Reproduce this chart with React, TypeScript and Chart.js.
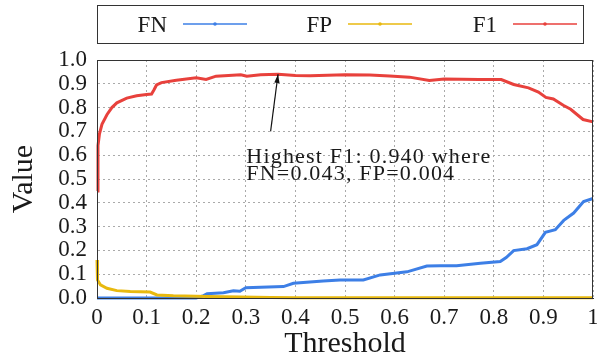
import React, { useEffect, useRef } from 'react';
import { Chart, registerables } from 'chart.js';

Chart.register(...registerables);

// ---- Data ----
const f1X = [0, 0.002, 0.005, 0.01, 0.02, 0.03, 0.04, 0.06, 0.08, 0.1, 0.11, 0.115, 0.12, 0.13, 0.16, 0.2, 0.22, 0.24, 0.29, 0.302, 0.33, 0.365, 0.4, 0.43, 0.5, 0.55, 0.59, 0.63, 0.67, 0.7, 0.77, 0.815, 0.84, 0.87, 0.89, 0.905, 0.92, 0.94, 0.955, 0.98, 1.0];
const f1Y = [0.45, 0.64, 0.69, 0.73, 0.77, 0.8, 0.82, 0.84, 0.85, 0.855, 0.857, 0.875, 0.895, 0.905, 0.915, 0.925, 0.918, 0.932, 0.938, 0.932, 0.938, 0.94, 0.935, 0.934, 0.938, 0.937, 0.933, 0.928, 0.914, 0.92, 0.918, 0.918, 0.897, 0.883, 0.865, 0.843, 0.836, 0.81, 0.793, 0.75, 0.74];

const fnX = [0, 0.2, 0.215, 0.222, 0.255, 0.275, 0.288, 0.3, 0.376, 0.396, 0.456, 0.49, 0.537, 0.571, 0.625, 0.665, 0.692, 0.725, 0.773, 0.813, 0.825, 0.84, 0.867, 0.887, 0.904, 0.924, 0.941, 0.961, 0.981, 1.0];
const fnY = [0, 0, 0.01, 0.018, 0.022, 0.03, 0.028, 0.043, 0.048, 0.062, 0.071, 0.076, 0.076, 0.097, 0.11, 0.134, 0.136, 0.136, 0.146, 0.153, 0.17, 0.199, 0.207, 0.224, 0.276, 0.287, 0.326, 0.357, 0.405, 0.418];

const fpX = [0, 0.001, 0.007, 0.02, 0.04, 0.067, 0.107, 0.121, 0.154, 0.222, 0.289, 0.35, 0.4, 1.0];
const fpY = [0.16, 0.076, 0.055, 0.041, 0.031, 0.027, 0.025, 0.013, 0.009, 0.006, 0.004, 0.002, 0.001, 0.001];

const seriesNames = ['FN', 'FP', 'F1'];
const seriesColors = ['#3d7fe6', '#e8b90f', '#e8413c'];

const xAxisTitle = 'Threshold';
const yAxisTitle = 'Value';
const annotationLines = ['Highest F1: 0.940 where', 'FN=0.043, FP=0.004'];
const arrowTail = { x: 0.35, y: 0.7 };
const arrowHead = { x: 0.365, y: 0.94 };
const annotationAnchor = { x: 0.301, y: 0.567 };

const FONT = "'Liberation Serif', 'Times New Roman', serif";
const TEXT = '#1a1a1a';

const toPoints = (xs: number[], ys: number[]) => xs.map((x, i) => ({ x, y: ys[i] }));

const decorPlugin = {
  id: 'decor',
  afterDraw(chart: any) {
    const { ctx, chartArea, scales } = chart;
    const xs = scales.x;
    const ys = scales.y;
    ctx.save();
    // plot frame
    ctx.strokeStyle = '#333';
    ctx.lineWidth = 1;
    ctx.strokeRect(chartArea.left + 0.5, chartArea.top + 0.5, chartArea.right - chartArea.left - 1, chartArea.bottom - chartArea.top);

    // annotation text
    ctx.fillStyle = TEXT;
    ctx.font = `22px ${FONT}`;
    try { (ctx as any).letterSpacing = '1.2px'; } catch (e) { /* ignore */ }
    ctx.textAlign = 'left';
    ctx.textBaseline = 'alphabetic';
    const tx = xs.getPixelForValue(annotationAnchor.x);
    const ty = ys.getPixelForValue(annotationAnchor.y);
    annotationLines.forEach((line, i) => ctx.fillText(line, tx, ty + i * 17));
    try { (ctx as any).letterSpacing = '0px'; } catch (e) { /* ignore */ }

    // arrow
    const ax0 = xs.getPixelForValue(arrowTail.x);
    const ay0 = ys.getPixelForValue(arrowTail.y);
    const ax1 = xs.getPixelForValue(arrowHead.x);
    const ay1 = ys.getPixelForValue(arrowHead.y);
    ctx.strokeStyle = '#111';
    ctx.lineWidth = 1.2;
    ctx.beginPath();
    ctx.moveTo(ax0, ay0);
    ctx.lineTo(ax1, ay1);
    ctx.stroke();
    const ang = Math.atan2(ay1 - ay0, ax1 - ax0);
    const hl = 9;
    ctx.beginPath();
    ctx.moveTo(ax1, ay1);
    ctx.lineTo(ax1 - hl * Math.cos(ang - 0.3), ay1 - hl * Math.sin(ang - 0.3));
    ctx.lineTo(ax1 - hl * Math.cos(ang + 0.3), ay1 - hl * Math.sin(ang + 0.3));
    ctx.closePath();
    ctx.fillStyle = '#111';
    ctx.fill();

    // legend box
    const boxL = chartArea.left;
    const boxR = chartArea.right - 10;
    const boxT = 5;
    const boxB = 43;
    ctx.strokeStyle = '#333';
    ctx.lineWidth = 1;
    ctx.strokeRect(boxL + 0.5, boxT + 0.5, boxR - boxL, boxB - boxT);
    ctx.font = `23px ${FONT}`;
    ctx.textAlign = 'right';
    ctx.textBaseline = 'alphabetic';
    seriesNames.forEach((name, i) => {
      const lineEnd = boxR - 6 - (seriesNames.length - 1 - i) * 165;
      const lineStart = lineEnd - 64;
      const cy = 24;
      ctx.fillStyle = TEXT;
      ctx.fillText(name, lineStart - 16, 32);
      ctx.strokeStyle = seriesColors[i];
      ctx.lineWidth = 1.5;
      ctx.beginPath();
      ctx.moveTo(lineStart, cy);
      ctx.lineTo(lineEnd, cy);
      ctx.stroke();
      ctx.fillStyle = seriesColors[i];
      ctx.beginPath();
      ctx.arc((lineStart + lineEnd) / 2, cy, 1.8, 0, Math.PI * 2);
      ctx.fill();
    });
    ctx.restore();
  },
};

export default function App() {
  const ref = useRef<HTMLCanvasElement | null>(null);

  useEffect(() => {
    if (!ref.current) return;
    const chart = new Chart(ref.current, {
      type: 'line',
      data: {
        datasets: [
          { label: seriesNames[0], data: toPoints(fnX, fnY), borderColor: seriesColors[0], order: 2 },
          { label: seriesNames[1], data: toPoints(fpX, fpY), borderColor: seriesColors[1], order: 1 },
          { label: seriesNames[2], data: toPoints(f1X, f1Y), borderColor: seriesColors[2], order: 0 },
        ].map((d) => ({ ...d, borderWidth: 3, pointRadius: 0, tension: 0, fill: false, clip: 4 })),
      },
      options: {
        animation: false,
        responsive: false,
        layout: { padding: { top: 60, right: 4, left: 0, bottom: 0 } },
        plugins: { legend: { display: false }, tooltip: { enabled: false } },
        scales: {
          x: {
            type: 'linear',
            min: 0,
            max: 1,
            ticks: {
              stepSize: 0.1,
              padding: 6,
              color: TEXT,
              font: { family: FONT, size: 23 },
              maxRotation: 0,
              autoSkip: false,
              callback: (v: any) => {
                const n = Math.round(Number(v) * 10) / 10;
                return n === 0 ? '0' : n === 1 ? '1' : n.toFixed(1);
              },
            },
            grid: { color: '#aaa', lineWidth: 1, drawTicks: false },
            border: { display: true, color: '#333', dash: [2, 3] },
            title: { display: true, text: xAxisTitle, color: TEXT, font: { family: FONT, size: 30 }, padding: { top: 0, bottom: 0 } },
            afterFit: (s: any) => {
              s.height = 64;
              s.paddingLeft = 0;
              s.paddingRight = 0;
            },
          },
          y: {
            type: 'linear',
            min: 0,
            max: 1,
            ticks: {
              stepSize: 0.1,
              padding: 10,
              color: TEXT,
              autoSkip: false,
              font: { family: FONT, size: 23 },
              callback: (v: any) => (Math.round(Number(v) * 10) / 10).toFixed(1),
            },
            grid: { color: '#aaa', lineWidth: 1, drawTicks: false },
            border: { display: true, color: '#333', dash: [2, 3] },
            title: { display: true, text: yAxisTitle, color: TEXT, font: { family: FONT, size: 30 }, padding: { top: 6, bottom: 0 } },
            afterFit: (s: any) => {
              s.width = 97;
              s.paddingTop = 0;
              s.paddingBottom = 0;
            },
          },
        },
      },
      plugins: [decorPlugin],
    } as any);
    return () => chart.destroy();
  }, []);

  return (
    <div style={{ position: 'fixed', left: 0, top: 0, width: 597, height: 362, background: '#fff' }}>
      <canvas ref={ref} width={597} height={362} />
    </div>
  );
}
